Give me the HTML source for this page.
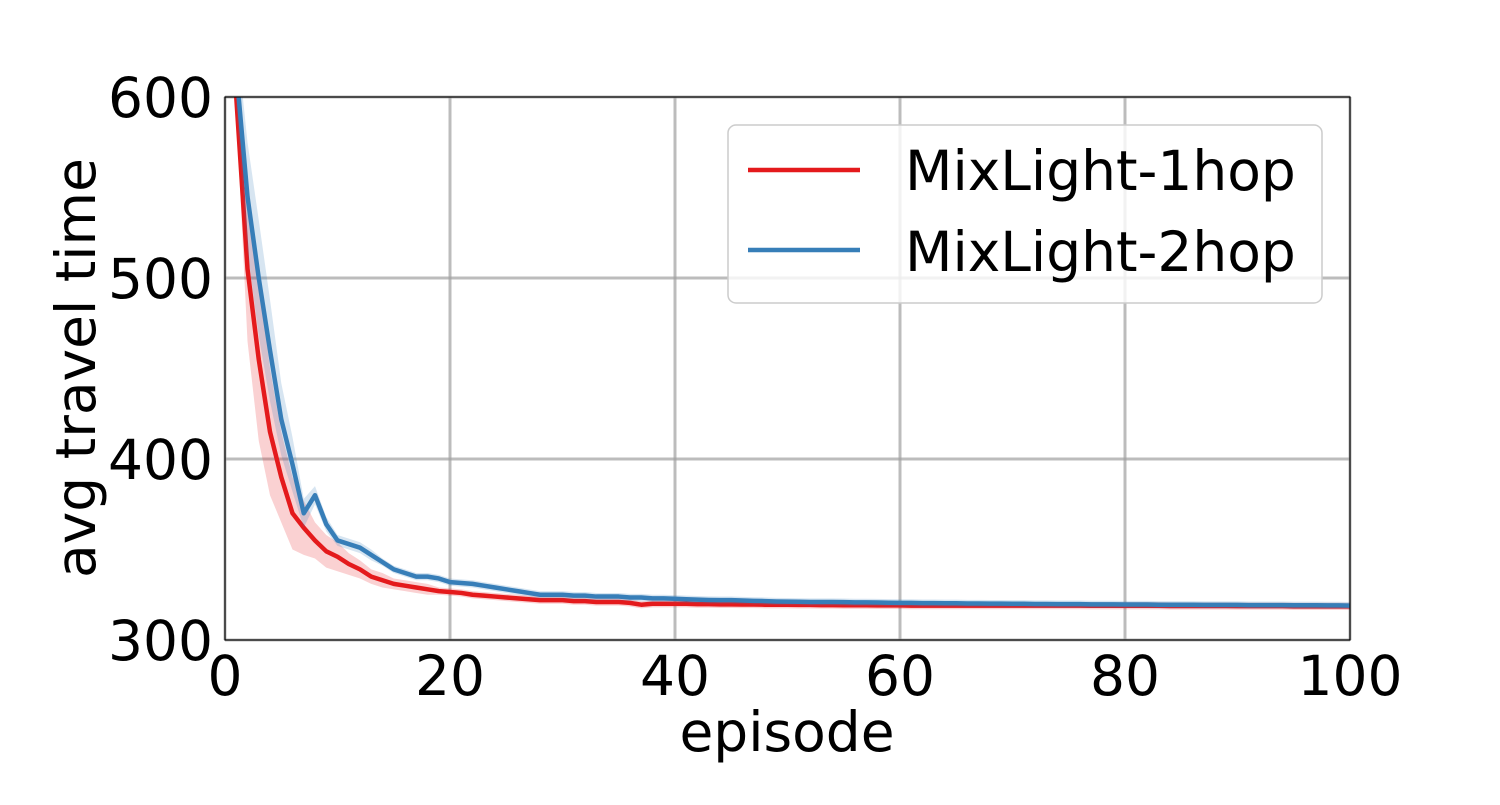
<!DOCTYPE html>
<html><head><meta charset="utf-8"><style>
body{margin:0;background:#fff}
svg text{font-family:"DejaVu Sans","Liberation Sans",sans-serif;fill:#000}
</style></head><body>
<svg id="chart" width="1500" height="800">
<defs><clipPath id="clip"><rect x="225" y="97" width="1125" height="543"/></clipPath></defs>
<g id="grid"></g>
<g id="marks" clip-path="url(#clip)"></g>
<rect x="225" y="97" width="1125" height="543" fill="none" stroke="#000" stroke-width="1.2"/>
<g id="ticks"></g>
<text x="787" y="751" font-size="55" text-anchor="middle">episode</text>
<text transform="translate(95,368) rotate(-90)" font-size="55" text-anchor="middle">avg travel time</text>
<g>
<rect x="728" y="125" width="594" height="178" rx="8" fill="#fff" fill-opacity="0.8" stroke="#ccc" stroke-width="1.5"/>
<line x1="748" y1="170" x2="860" y2="170" stroke="#e41a1c" stroke-width="4.5"/>
<text x="905" y="190" font-size="55">MixLight-1hop</text>
<line x1="748" y1="250" x2="860" y2="250" stroke="#377eb8" stroke-width="4.5"/>
<text x="905" y="271" font-size="55">MixLight-2hop</text>
</g>
</svg>
<script>
const xTicks=[0,20,40,60,80,100];
const yTicks=[300,400,500,600];
const red=[600,505,455,415,390,370,362,355,349,346,342,339,335,333,331,330,329,328,327,326.5,326,325,324.5,324,323.5,323,322.5,322,322,322,321.5,321.5,321,321,321,320.5,319.5,320,320,320,320,319.8,319.8,319.7,319.7,319.6,319.6,319.5,319.5,319.5,319.4,319.4,319.3,319.3,319.2,319.2,319.2,319.1,319.1,319.1,319,319,319,319,319,319,319,319,319,319,319,319,319,319,319,319,318.9,318.9,318.9,318.9,318.9,318.9,318.9,318.8,318.8,318.8,318.8,318.8,318.8,318.7,318.7,318.7,318.7,318.7,318.6,318.6,318.6,318.6,318.6,318.6];
const redBand=[8,40,45,35,25,20,15,10,9,8,6,5,4,4,3,3,3,3,2,2,2,2,2,2,2,2,2,2,2,2,2,2,2,2,2,2,2,2,2,2,2,2,2,2,2,2,2,2,2,2,2,2,2,2,2,2,2,2,2,2,2,2,2,2,2,2,2,2,2,2,2,2,2,2,2,2,2,2,2,2,2,2,2,2,2,2,2,2,2,2,2,2,2,2,2,2,2,2,2,2];
const blue=[615,545,500,460,422,397,370,380,364,355,353,351,347,343,339,337,335,335,334,332,331.5,331,330,329,328,327,326,325,325,325,324.5,324.5,324,324,324,323.5,323.5,323,323,322.8,322.5,322.3,322.1,322,322,321.8,321.6,321.5,321.3,321.2,321.1,321,321,321,320.9,320.8,320.8,320.7,320.6,320.5,320.5,320.4,320.4,320.3,320.3,320.2,320.2,320.1,320.1,320,320,319.9,319.9,319.8,319.8,319.8,319.7,319.7,319.7,319.6,319.6,319.6,319.5,319.5,319.5,319.5,319.4,319.4,319.4,319.4,319.3,319.3,319.3,319.3,319.2,319.2,319.2,319.1,319.1,319];
const blueBand=[20,30,32,28,20,15,8,5,4,3,3,3,3,2,2,2,2,2,2,2,2,2,2,2,2,2,2,2,2,2,2,2,2,2,2,2,2,2,2,2,2,2,2,2,2,2,2,2,2,2,2,2,2,2,2,2,2,2,2,2,2,2,2,2,2,2,2,2,2,2,2,2,2,2,2,2,2,2,2,2,2,2,2,2,2,2,2,2,2,2,2,2,2,2,2,2,2,2,2,2];
const X=v=>225+v*11.25, Y=v=>640-(v-300)*543/300;
const NS="http://www.w3.org/2000/svg";
function mk(t,a,p){const e=document.createElementNS(NS,t);for(const k in a)e.setAttribute(k,a[k]);p.appendChild(e);return e;}
const grid=document.getElementById('grid'),ticks=document.getElementById('ticks'),marks=document.getElementById('marks');
xTicks.forEach(t=>{const l=mk('line',{x1:X(t),x2:X(t),y1:97,y2:640,stroke:'#a0a0a0','stroke-width':3,'stroke-opacity':0.7},grid);


const s=mk('text',{x:X(t),y:695,'font-size':55,'text-anchor':'middle'},ticks);s.textContent=t;

});
yTicks.forEach(t=>{const l=mk('line',{x1:225,x2:1350,y1:Y(t),y2:Y(t),stroke:'#a0a0a0','stroke-width':3,'stroke-opacity':0.7},grid);


const s=mk('text',{x:213,y:Y(t)+20,'font-size':55,'text-anchor':'end'},ticks);s.textContent=t;

});
function series(vals,band,col,name){
 let up=vals.map((v,i)=>X(i+1)+','+Y(v+band[i]));
 let lo=vals.map((v,i)=>X(i+1)+','+Y(v-band[i])).reverse();
 const b=mk('polygon',{points:up.concat(lo).join(' '),fill:col,'fill-opacity':0.2,stroke:'none'},marks);
 
 
 const l=mk('polyline',{points:vals.map((v,i)=>X(i+1)+','+Y(v)).join(' '),fill:'none',stroke:col,'stroke-width':4.5,'stroke-linejoin':'round'},marks);
 
 
}
series(red,redBand,'#e41a1c','mixlight-1hop');
series(blue,blueBand,'#377eb8','mixlight-2hop');
</script>
</body></html>
